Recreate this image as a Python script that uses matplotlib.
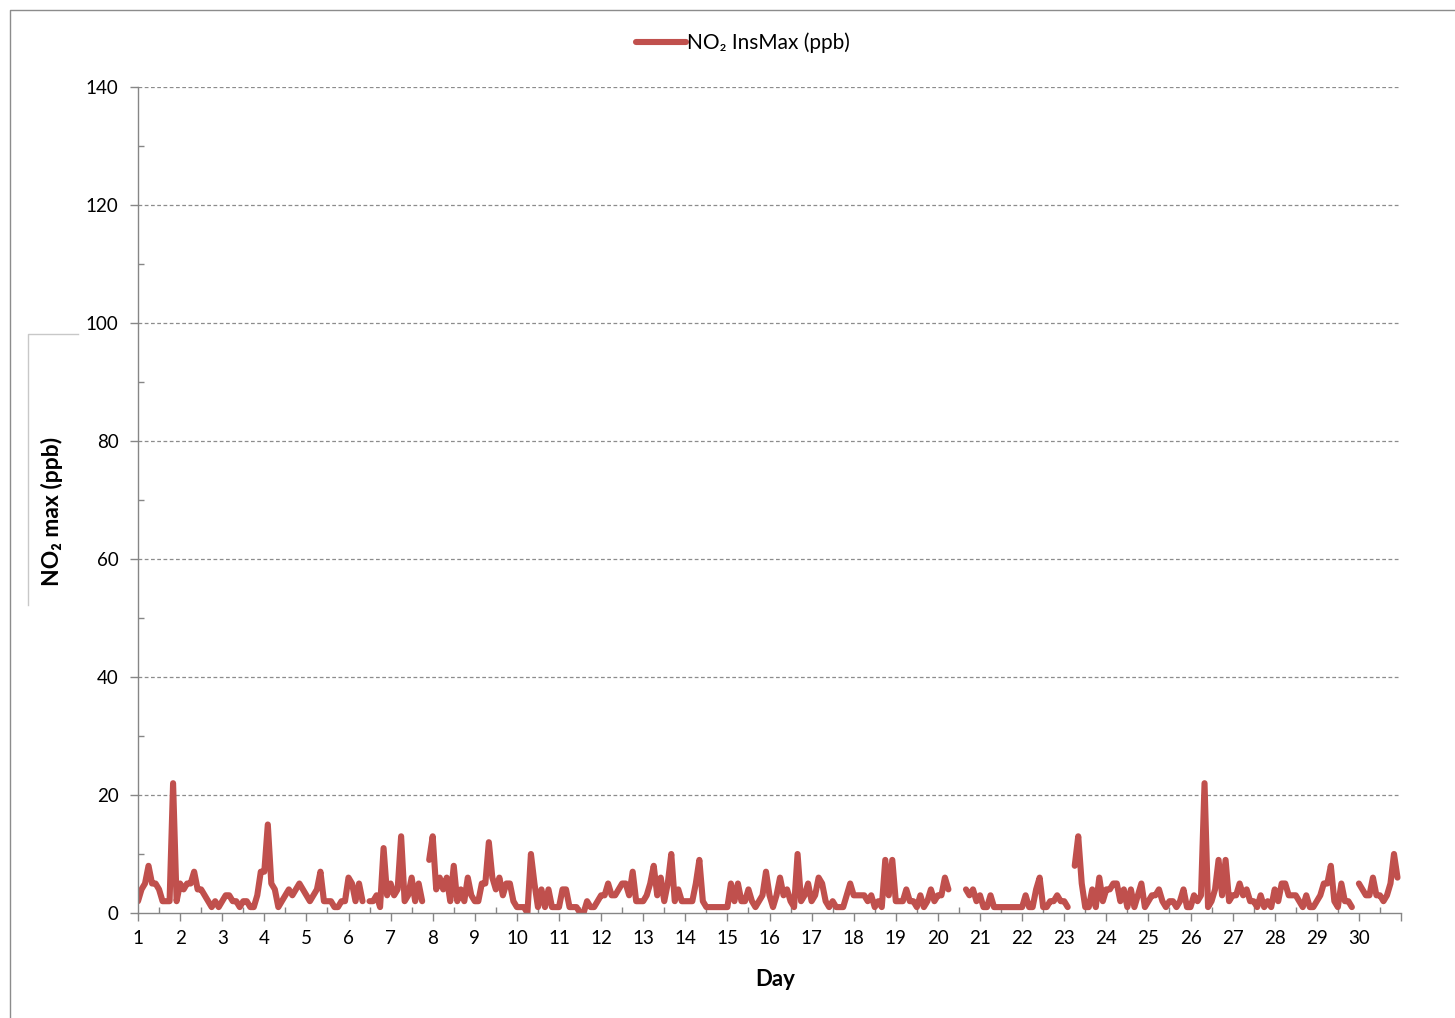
import numpy as np
import matplotlib
matplotlib.use("Agg")
import matplotlib.pyplot as plt
from matplotlib.lines import Line2D
from matplotlib.ticker import MultipleLocator, FixedLocator

nan = np.nan

# NO2 instantaneous maximum (ppb), one row per day, 2-hourly readings
readings_per_day = 12
no2_insmax = [
    2, 4, 5, 8, 5, 5, 4, 2, 2, 2, 22, 2,        # day 1
    5, 4, 5, 5, 7, 4, 4, 3, 2, 1, 2, 1,         # day 2
    2, 3, 3, 2, 2, 1, 2, 2, 1, 1, 3, 7,         # day 3
    7, 15, 5, 4, 1, 2, 3, 4, 3, 4, 5, 4,        # day 4
    3, 2, 3, 4, 7, 2, 2, 2, 1, 1, 2, 2,         # day 5
    6, 5, 2, 5, 2, nan, 2, 2, 3, 1, 11, 3,      # day 6
    5, 3, 4, 13, 2, 3, 6, 2, 5, 2, nan, 9,      # day 7
    13, 4, 6, 4, 6, 2, 8, 2, 4, 2, 6, 3,        # day 8
    2, 2, 5, 5, 12, 6, 4, 6, 3, 5, 5, 2,        # day 9
    1, 1, 1, 0, 10, 5, 1, 4, 1, 4, 1, 1,        # day 10
    1, 4, 4, 1, 1, 1, 0, 0, 2, 1, 1, 2,         # day 11
    3, 3, 5, 3, 3, 4, 5, 5, 3, 7, 2, 2,         # day 12
    2, 3, 5, 8, 3, 6, 2, 5, 10, 2, 4, 2,        # day 13
    2, 2, 2, 5, 9, 2, 1, 1, 1, 1, 1, 1,         # day 14
    1, 5, 2, 5, 2, 2, 4, 2, 1, 2, 3, 7,         # day 15
    3, 1, 3, 6, 3, 4, 2, 1, 10, 2, 3, 5,        # day 16
    2, 3, 6, 5, 2, 1, 2, 1, 1, 1, 3, 5,         # day 17
    3, 3, 3, 3, 2, 3, 1, 2, 1, 9, 3, 9,         # day 18
    2, 2, 2, 4, 2, 2, 1, 3, 1, 2, 4, 2,         # day 19
    3, 3, 6, 4, nan, nan, nan, nan, 4, 3, 4, 2, # day 20
    3, 1, 1, 3, 1, 1, 1, 1, 1, 1, 1, 1,         # day 21
    1, 3, 1, 1, 4, 6, 1, 1, 2, 2, 3, 2,         # day 22
    2, 1, nan, 8, 13, 5, 1, 1, 4, 1, 6, 2,      # day 23
    4, 4, 5, 5, 2, 4, 1, 4, 1, 3, 5, 1,         # day 24
    2, 3, 3, 4, 2, 1, 2, 2, 1, 2, 4, 1,         # day 25
    1, 3, 2, 3, 22, 1, 2, 4, 9, 3, 9, 2,        # day 26
    3, 3, 5, 3, 4, 2, 2, 1, 3, 1, 2, 1,         # day 27
    4, 2, 5, 5, 3, 3, 3, 2, 1, 3, 1, 1,         # day 28
    2, 3, 5, 5, 8, 2, 1, 5, 2, 2, 1, nan,       # day 29
    5, 4, 3, 3, 6, 3, 3, 2, 3, 5, 10, 6,        # day 30
]
day_labels = [str(d) for d in range(1, 31)] + [""]
y_ticks = [0, 20, 40, 60, 80, 100, 120, 140]
series_name = "NO\u2082 InsMax (ppb)"
y_title = "NO\u2082 max (ppb)"
x_title = "Day"

plt.rcParams['font.family'] = ['Lato', 'DejaVu Sans']

W, H = 1455, 1018
fig = plt.figure(figsize=(W / 100, H / 100), dpi=100)
fig.patch.set_facecolor("white")

ax = fig.add_axes([138 / W, 1 - 913 / H, (1401 - 138) / W, (913 - 87) / H])

x = 1 + np.arange(len(no2_insmax)) / readings_per_day
red = "#C0504D"
ax.plot(x, no2_insmax, color=red, lw=4.4, solid_capstyle="round",
        solid_joinstyle="round", label=series_name)

ax.set_xlim(1, 31)
ax.set_ylim(0, 140)

axis_gray = "#868686"
for s in ["top", "right"]:
    ax.spines[s].set_visible(False)
for s in ["left", "bottom"]:
    ax.spines[s].set_color(axis_gray)
    ax.spines[s].set_linewidth(1.0)

ax.xaxis.set_major_locator(FixedLocator(range(1, 32)))
ax.set_xticklabels(day_labels)
ax.xaxis.set_minor_locator(MultipleLocator(0.5))
ax.yaxis.set_major_locator(FixedLocator(y_ticks))
ax.yaxis.set_minor_locator(MultipleLocator(10))

ax.tick_params(axis="both", which="major", direction="out", length=6,
               width=1, color=axis_gray, labelsize=13.5, labelcolor="black")
ax.tick_params(axis="both", which="minor", direction="in", length=4,
               width=1, color=axis_gray)
ax.tick_params(axis="x", which="major", pad=6)
ax.tick_params(axis="y", which="major", pad=8)

for yv in y_ticks[1:]:
    ax.axhline(yv, color="#8c8c8c", lw=0.9, ls=(0, (3, 2)), zorder=0)

fig.text(775 / W, 1 - 980 / H, x_title, ha="center", va="center",
         fontsize=16, fontweight="bold")
fig.text(52 / W, 1 - 511 / H, y_title, rotation=90, ha="center", va="center",
         fontsize=16.5, fontweight="bold")

# label box remnant
fig.add_artist(Line2D([78 / W, 28 / W, 28 / W],
                      [1 - 334 / H, 1 - 334 / H, 1 - 605 / H],
                      color="#c8c8c8", lw=1.0))
# chart frame
fig.add_artist(Line2D([9.5 / W, 9.5 / W, 1 - 0.5 / W],
                      [0, 1 - 9.5 / H, 1 - 9.5 / H],
                      color="#8c8c8c", lw=1.0))

fig.legend(loc="center", bbox_to_anchor=(743 / W, 1 - 43 / H), frameon=False,
           fontsize=15, handlelength=2.4, handletextpad=0.05, borderpad=0,
           borderaxespad=0)

fig.savefig("out.png", dpi=100)
